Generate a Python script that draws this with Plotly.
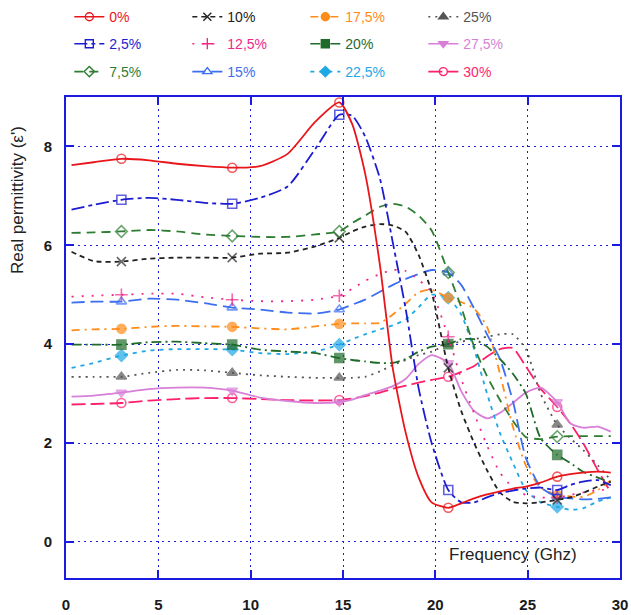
import plotly.graph_objects as go

# Frequency grid (GHz) and the frequencies that carry a symbol
FREQ = [0.3, 1.5, 3.0, 4.5, 6.0, 7.5, 9.0, 10.5, 12.0, 13.5, 14.8, 15.5, 16.2, 17.0,
        17.7, 18.4, 19.1, 19.8, 20.7, 21.4, 22.1, 22.8, 23.5, 24.2, 24.9, 25.7, 26.6,
        27.3, 28.0, 28.8, 29.5]
MARKER_FREQ = [3.0, 9.0, 14.8, 20.7, 26.6]

LABELS = ["0%", "2,5%", "7,5%", "10%", "12,5%", "15%",
          "17,5%", "20%", "22,5%", "25%", "27,5%", "30%"]

# Real permittivity for each loading
EPS_0 = [7.62, 7.68, 7.75, 7.72, 7.65, 7.60, 7.57, 7.60, 7.85, 8.50, 8.89, 8.45, 7.45, 5.60,
         3.50, 2.20, 1.30, 0.80, 0.69, 0.78, 0.88, 0.96, 1.02, 1.08, 1.12, 1.20, 1.32,
         1.37, 1.40, 1.42, 1.40]
EPS_2_5 = [6.72, 6.82, 6.92, 6.96, 6.92, 6.86, 6.84, 6.96, 7.19, 7.95, 8.64, 8.62, 8.20, 7.35,
           6.05, 4.70, 3.10, 2.00, 1.05, 0.80, 0.80, 0.90, 0.99, 1.04, 1.08, 1.10, 1.05,
           1.15, 1.22, 1.25, 1.15]
EPS_7_5 = [6.25, 6.26, 6.28, 6.31, 6.28, 6.22, 6.19, 6.17, 6.17, 6.22, 6.28, 6.45, 6.60, 6.78,
           6.84, 6.78, 6.60, 6.30, 5.45, 4.75, 3.95, 3.35, 2.87, 2.45, 2.12, 2.08, 2.13,
           2.14, 2.14, 2.14, 2.14]
EPS_10 = [5.87, 5.68, 5.67, 5.73, 5.75, 5.75, 5.75, 5.83, 5.85, 5.98, 6.15, 6.28, 6.38, 6.43,
          6.40, 6.27, 5.80, 5.05, 3.52, 2.65, 2.00, 1.45, 1.00, 0.81, 0.78, 0.80, 0.85,
          0.90, 0.99, 1.12, 1.22]
EPS_12_5 = [4.96, 4.98, 5.00, 5.02, 5.02, 4.95, 4.90, 4.87, 4.87, 4.90, 4.98, 5.12, 5.28, 5.42,
            5.50, 5.48, 5.30, 5.05, 4.15, 3.30, 2.60, 1.95, 1.40, 1.10, 0.95, 0.90, 0.90,
            0.95, 1.00, 1.05, 1.05]
EPS_15 = [4.84, 4.86, 4.86, 4.92, 4.90, 4.83, 4.74, 4.70, 4.64, 4.62, 4.70, 4.80, 4.90, 5.06,
          5.20, 5.32, 5.42, 5.50, 5.45, 5.20, 4.72, 4.20, 3.70, 2.85, 1.70, 1.11, 0.91,
          0.88, 0.86, 0.87, 0.90]
EPS_17_5 = [4.28, 4.30, 4.31, 4.35, 4.37, 4.36, 4.35, 4.32, 4.30, 4.36, 4.41, 4.42, 4.42, 4.43,
            4.60, 4.82, 5.05, 5.10, 4.94, 4.85, 4.72, 4.35, 3.40, 2.33, 1.55, 1.10, 0.95,
            0.92, 0.91, 1.05, 1.25]
EPS_20 = [3.99, 3.99, 3.99, 4.04, 4.05, 4.02, 3.99, 3.89, 3.85, 3.82, 3.72, 3.68, 3.65, 3.62,
          3.62, 3.70, 3.85, 3.95, 4.00, 4.10, 4.10, 3.95, 3.70, 3.40, 3.00, 2.10, 1.76,
          1.60, 1.42, 1.30, 1.20]
EPS_22_5 = [3.52, 3.62, 3.77, 3.87, 3.90, 3.90, 3.89, 3.82, 3.80, 3.85, 3.99, 4.10, 4.20, 4.30,
            4.38, 4.50, 4.75, 5.00, 4.94, 4.60, 3.90, 3.00, 2.20, 1.60, 1.05, 0.80, 0.71,
            0.65, 0.68, 0.82, 0.90]
EPS_25 = [3.34, 3.34, 3.34, 3.42, 3.48, 3.47, 3.42, 3.37, 3.34, 3.32, 3.32, 3.32, 3.34, 3.45,
          3.58, 3.68, 3.78, 3.85, 4.00, 4.05, 4.10, 4.15, 4.20, 4.20, 3.90, 3.00, 2.37,
          2.10, 1.86, 1.55, 1.25]
EPS_27_5 = [2.94, 2.96, 3.02, 3.09, 3.12, 3.12, 3.06, 2.92, 2.85, 2.81, 2.83, 2.88, 2.97, 3.06,
            3.15, 3.30, 3.60, 3.78, 3.62, 3.05, 2.65, 2.50, 2.61, 2.81, 3.02, 3.12, 2.83,
            2.40, 2.31, 2.33, 2.23]
EPS_30 = [2.78, 2.79, 2.81, 2.86, 2.89, 2.91, 2.91, 2.89, 2.87, 2.86, 2.87, 2.90, 2.95, 3.02,
          3.10, 3.16, 3.22, 3.28, 3.34, 3.44, 3.56, 3.75, 3.90, 3.92, 3.55, 3.10, 2.73,
          2.40, 2.00, 1.45, 1.00]

SERIES = [EPS_0, EPS_2_5, EPS_7_5, EPS_10, EPS_12_5, EPS_15,
          EPS_17_5, EPS_20, EPS_22_5, EPS_25, EPS_27_5, EPS_30]

# Visual style of each curve: colour, dash pattern, symbol, legend row
STYLES = [
    dict(color="#e8161b", dash="solid",              symbol="circle-open",      row=1),
    dict(color="#1c1cd0", dash="13px,4px,4px,4px",   symbol="square-open",      row=2),
    dict(color="#2e7d32", dash="9px,6px",            symbol="diamond-open",     row=3),
    dict(color="#222222", dash="5px,4px",            symbol="x-thin-open",      row=1),
    dict(color="#f0288c", dash="2px,8px",            symbol="cross-thin-open",  row=2),
    dict(color="#3c6ef0", dash="13px,6px",           symbol="triangle-up-open", row=3),
    dict(color="#ff8c1a", dash="8px,5px,2px,5px",    symbol="circle",           row=1),
    dict(color="#1f6b2a", dash="10px,4px,2px,4px",   symbol="square",           row=2),
    dict(color="#1fa8e6", dash="4px,5px",            symbol="diamond",          row=3),
    dict(color="#555555", dash="2px,5px",            symbol="triangle-up",      row=1),
    dict(color="#d87fd8", dash="solid",              symbol="triangle-down",    row=2),
    dict(color="#ff1f6b", dash="14px,5px",           symbol="circle-open",      row=3),
]

AXIS_BLUE = "#1a1ae0"
marker_idx = [i for i, f in enumerate(FREQ) if f in MARKER_FREQ]

fig = go.Figure()

# Curves, drawn from the highest loading down so 0% lies on top
for label, vals, st in reversed(list(zip(LABELS, SERIES, STYLES))):
    sizes = [9 if i in marker_idx else 0 for i in range(len(FREQ))]
    fig.add_trace(go.Scatter(
        x=FREQ, y=vals, mode="lines+markers", showlegend=False,
        line=dict(color=st["color"], dash=st["dash"], width=1.8,
                  shape="spline", smoothing=0.6),
        marker=dict(symbol=st["symbol"], size=sizes, color=st["color"],
                    line=dict(color=st["color"], width=1.6)),
        hoverinfo="skip"))

# Legend entries, one horizontal legend per row
legend_name = {1: "legend", 2: "legend2", 3: "legend3"}
for label, st in zip(LABELS, STYLES):
    fig.add_trace(go.Scatter(
        x=[None], y=[None], mode="lines+markers",
        name=f'<span style="color:{st["color"]}">{label}</span>',
        legend=legend_name[st["row"]],
        line=dict(color=st["color"], dash=st["dash"], width=1.6),
        marker=dict(symbol=st["symbol"], size=8, color=st["color"],
                    line=dict(color=st["color"], width=1.4))))

legend_common = dict(orientation="h", xanchor="left", yanchor="middle",
                     entrywidth=73, entrywidthmode="pixels",
                     bgcolor="rgba(0,0,0,0)", itemsizing="trace",
                     font=dict(family="Liberation Sans, Arial", size=14),
                     traceorder="normal")

fig.update_layout(
    width=631, height=615,
    margin=dict(l=66, r=11, t=97, b=37, autoexpand=False),
    paper_bgcolor="white", plot_bgcolor="white",
    legend=dict(x=0.006, y=1.166, **legend_common),
    legend2=dict(x=0.006, y=1.110, **legend_common),
    legend3=dict(x=0.006, y=1.052, **legend_common),
    font=dict(family="Liberation Sans, Arial", color="#111111"),
)

axis_common = dict(showline=True, linecolor=AXIS_BLUE, linewidth=2, mirror="allticks",
                   ticks="inside", ticklen=8, tickwidth=2, tickcolor=AXIS_BLUE,
                   showgrid=True, gridcolor=AXIS_BLUE, gridwidth=1.4, griddash="2px,4px",
                   zeroline=False,
                   tickfont=dict(family="Liberation Sans, Arial", size=15,
                                 color="#1a1a1a", weight="bold"))

fig.update_xaxes(range=[0, 30], tickvals=[0, 5, 10, 15, 20, 25, 30],
                 ticklabelstandoff=12, **axis_common)
fig.update_yaxes(range=[-0.73, 9.0], tickvals=[0, 2, 4, 6, 8],
                 ticklabelstandoff=9, **axis_common)

fig.add_annotation(text="Real permittivity (ε')", textangle=-90,
                   xref="paper", yref="paper", x=-0.0866, y=0.786,
                   xanchor="center", yanchor="middle",
                   showarrow=False, font=dict(size=17, color="#222222"))
fig.add_annotation(text="Frequency (Ghz)",
                   xref="paper", yref="paper", x=0.807, y=0.048,
                   xanchor="center", yanchor="middle",
                   showarrow=False, font=dict(size=17, color="#222222"))

fig.write_html("out.html")
